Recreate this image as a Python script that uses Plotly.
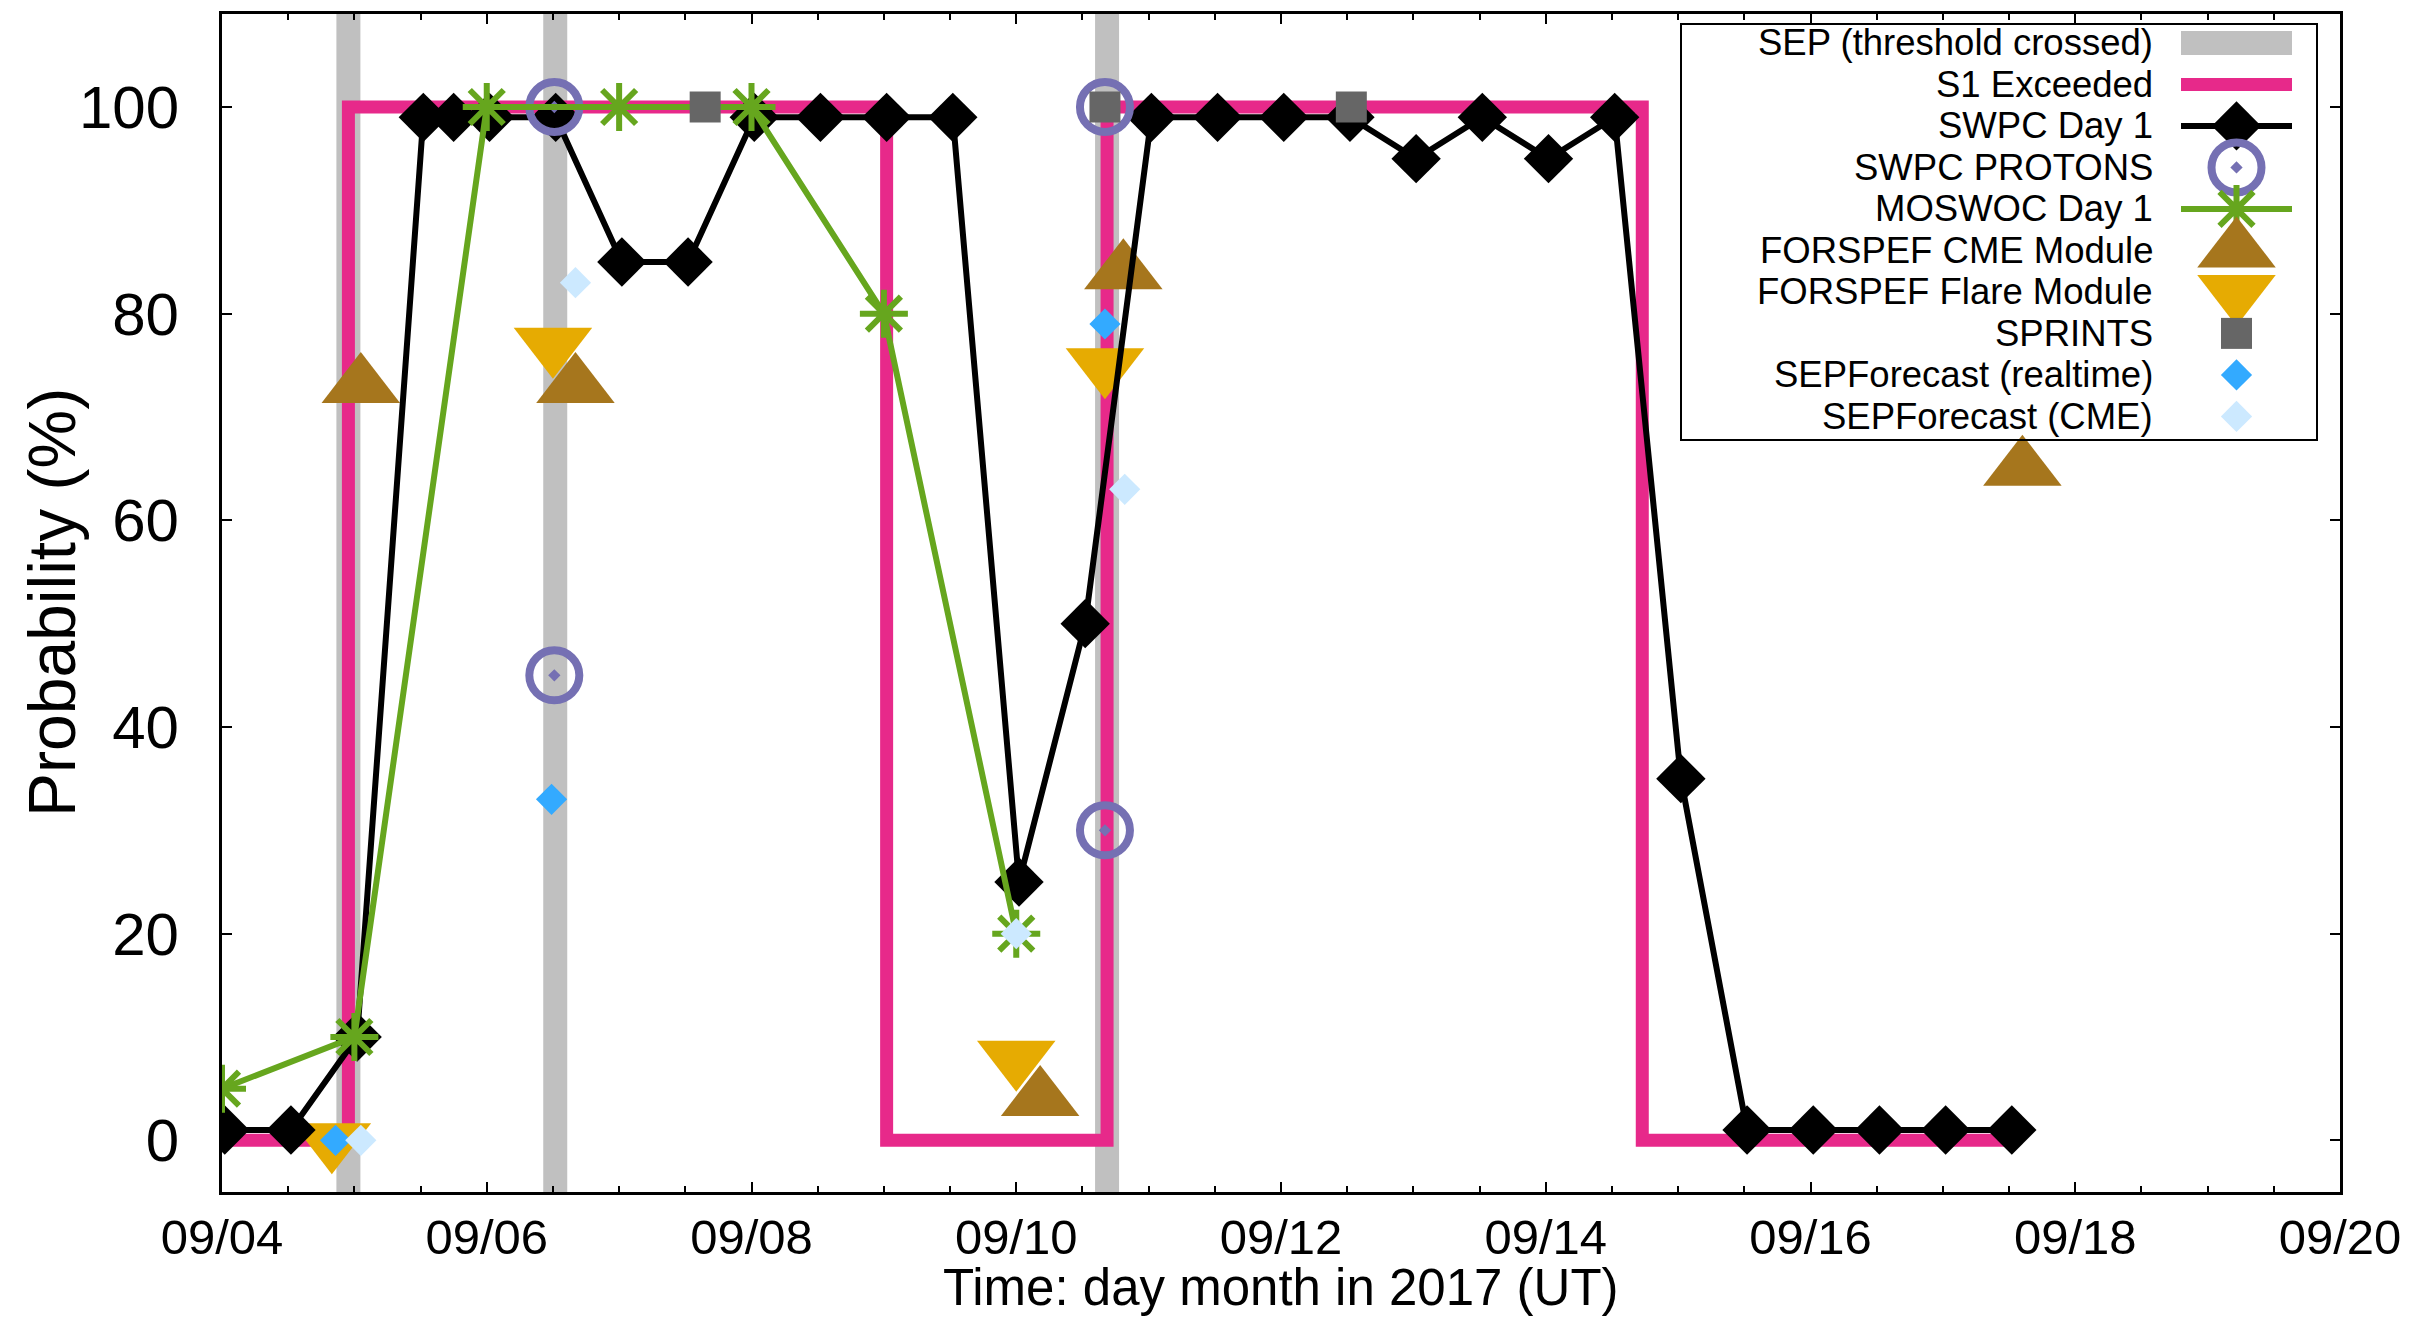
import plotly.graph_objects as go

# ---------------------------------------------------------------------------
# Forecast data, September 2017 SEP events
# ---------------------------------------------------------------------------
sep_onset_time = ["2017-09-04 22:55", "2017-09-06 12:25", "2017-09-10 16:28"]

s1_time = ["2017-09-04 00:00", "2017-09-04 22:55", "2017-09-09 00:30",
           "2017-09-10 16:28", "2017-09-14 17:30", "2017-09-17 12:00"]
s1_level = [0, 100, 0, 100, 0, 0]

swpc_time = ["2017-09-04 00:30", "2017-09-04 12:30", "2017-09-05 00:30",
             "2017-09-05 12:30", "2017-09-05 18:00", "2017-09-06 00:30",
             "2017-09-06 12:30", "2017-09-07 00:30", "2017-09-07 12:30",
             "2017-09-08 00:30", "2017-09-08 12:30", "2017-09-09 00:30",
             "2017-09-09 12:30", "2017-09-10 00:30", "2017-09-10 12:30",
             "2017-09-11 00:30", "2017-09-11 12:30", "2017-09-12 00:30",
             "2017-09-12 12:30", "2017-09-13 00:30", "2017-09-13 12:30",
             "2017-09-14 00:30", "2017-09-14 12:30", "2017-09-15 00:30",
             "2017-09-15 12:30", "2017-09-16 00:30", "2017-09-16 12:30",
             "2017-09-17 00:30", "2017-09-17 12:30"]
swpc_prob = [1, 1, 10, 99, 99, 99, 99, 85, 85, 99, 99, 99, 99, 25, 50,
             99, 99, 99, 99, 95, 99, 95, 99, 35, 1, 1, 1, 1, 1]

protons_time = ["2017-09-06 12:15", "2017-09-06 12:15",
                "2017-09-10 16:05", "2017-09-10 16:05"]
protons_prob = [100, 45, 100, 30]

moswoc_time = ["2017-09-04 00:00", "2017-09-05 00:00", "2017-09-06 00:00",
               "2017-09-07 00:00", "2017-09-08 00:00", "2017-09-09 00:00",
               "2017-09-10 00:00"]
moswoc_prob = [5, 10, 100, 100, 100, 80, 20]

forspef_cme_time = ["2017-09-05 01:10", "2017-09-06 16:05", "2017-09-10 04:20",
                    "2017-09-10 19:25", "2017-09-17 14:25"]
forspef_cme_prob = [73, 73, 4, 84, 65]

forspef_flare_time = ["2017-09-04 19:55", "2017-09-06 12:00",
                      "2017-09-10 00:00", "2017-09-10 16:05"]
forspef_flare_prob = [0, 77, 8, 75]

sprints_time = ["2017-09-07 15:36", "2017-09-10 16:05", "2017-09-12 12:45"]
sprints_prob = [100, 100, 100]

sepf_rt_time = ["2017-09-04 20:35", "2017-09-06 11:45", "2017-09-10 16:05"]
sepf_rt_prob = [0, 33, 79]

sepf_cme_time = ["2017-09-05 01:10", "2017-09-06 16:05",
                 "2017-09-10 00:00", "2017-09-10 19:40"]
sepf_cme_prob = [0, 83, 20, 63]

x_ticks_start = "2017-09-04"
x_range = ["2017-09-04 00:00", "2017-09-20 00:00"]
y_range = [-5, 109]

# ---------------------------------------------------------------------------
# Styling
# ---------------------------------------------------------------------------
FONT = "Liberation Sans, Arial, Helvetica, sans-serif"
W, H = 2433, 1318
L, R, T, B = 222, 93, 11, 126

C_BAND = "#c0c0c0"
C_S1 = "#e7298a"
C_SWPC = "#000000"
C_PROT = "#7570b3"
C_MOS = "#66a61e"
C_CME = "#a6761d"
C_FLARE = "#e6ab02"
C_SPR = "#666666"
C_RT = "#33aaff"
C_SCME = "#cce9ff"

series = [
    # name, kind, style dict
    ("SEP (threshold crossed)", "band", dict(color=C_BAND, width=24)),
    ("S1 Exceeded", "line", dict(color=C_S1, width=13)),
    ("SWPC Day 1", "linemark", dict(color=C_SWPC, width=6, symbol="diamond", size=38)),
    ("SWPC PROTONS", "mark", dict(color=C_PROT, symbol="circle-open-dot", size=50, lw=8)),
    ("MOSWOC Day 1", "linemark", dict(color=C_MOS, width=6, symbol="asterisk-open", size=40, lw=6)),
    ("FORSPEF CME Module", "mark", dict(color=C_CME, symbol="triangle-up", size=68)),
    ("FORSPEF Flare Module", "mark", dict(color=C_FLARE, symbol="triangle-down", size=68)),
    ("SPRINTS", "mark", dict(color=C_SPR, symbol="square", size=31)),
    ("SEPForecast (realtime)", "mark", dict(color=C_RT, symbol="diamond", size=24)),
    ("SEPForecast (CME)", "mark", dict(color=C_SCME, symbol="diamond", size=24)),
]
style = {name: st for name, _, st in series}


def marker_of(st):
    lw = st.get("lw", 0)
    return dict(symbol=st["symbol"], size=st["size"], color=st["color"],
                line=dict(color=st["color"], width=lw))


fig = go.Figure()

# S1 threshold status as a step line
fig.add_trace(go.Scatter(x=s1_time, y=s1_level, mode="lines",
                         line=dict(color=C_S1, width=13, shape="hv"),
                         showlegend=False, hoverinfo="skip"))

# Forecast model points
fig.add_trace(go.Scatter(x=forspef_cme_time, y=forspef_cme_prob, mode="markers",
                         marker=marker_of(style["FORSPEF CME Module"]), showlegend=False))
fig.add_trace(go.Scatter(x=forspef_flare_time, y=forspef_flare_prob, mode="markers",
                         marker=marker_of(style["FORSPEF Flare Module"]), showlegend=False))
fig.add_trace(go.Scatter(x=swpc_time, y=swpc_prob, mode="lines+markers",
                         line=dict(color=C_SWPC, width=6),
                         marker=marker_of(style["SWPC Day 1"]), showlegend=False))
fig.add_trace(go.Scatter(x=protons_time, y=protons_prob, mode="markers",
                         marker=marker_of(style["SWPC PROTONS"]), showlegend=False))
fig.add_trace(go.Scatter(x=moswoc_time, y=moswoc_prob, mode="lines+markers",
                         line=dict(color=C_MOS, width=6),
                         marker=marker_of(style["MOSWOC Day 1"]), showlegend=False))
fig.add_trace(go.Scatter(x=sprints_time, y=sprints_prob, mode="markers",
                         marker=marker_of(style["SPRINTS"]), showlegend=False))
fig.add_trace(go.Scatter(x=sepf_rt_time, y=sepf_rt_prob, mode="markers",
                         marker=marker_of(style["SEPForecast (realtime)"]), showlegend=False))
fig.add_trace(go.Scatter(x=sepf_cme_time, y=sepf_cme_prob, mode="markers",
                         marker=marker_of(style["SEPForecast (CME)"]), showlegend=False))

# SEP onset bands: full-height vertical bars behind the data
for t in sep_onset_time:
    fig.add_shape(type="line", xref="x", yref="paper", x0=t, x1=t, y0=0, y1=1,
                  line=dict(color=C_BAND, width=24), layer="below")

# ---------------------------------------------------------------------------
# Key box (text right-aligned, sample on the right), drawn on a pixel overlay
# ---------------------------------------------------------------------------
KEY_TEXT_RIGHT = 2155
KEY_SAMPLE_X0, KEY_SAMPLE_X1 = 2181, 2292
KEY_ROW0, KEY_ROW_STEP = 40, 41.6
KEY_BOX = (1681, 21, 2317, 438)

fig.add_shape(type="rect", xref="x2", yref="y2",
              x0=KEY_BOX[0], y0=KEY_BOX[1], x1=KEY_BOX[2], y1=KEY_BOX[3],
              line=dict(color="black", width=2), fillcolor="rgba(0,0,0,0)")

xmid = (KEY_SAMPLE_X0 + KEY_SAMPLE_X1) / 2
for i, (name, kind, st) in enumerate(series):
    yy = KEY_ROW0 + i * KEY_ROW_STEP
    fig.add_annotation(xref="x2", yref="y2", x=KEY_TEXT_RIGHT, y=yy,
                       text=name, showarrow=False, xanchor="right", yanchor="middle",
                       font=dict(family=FONT, size=36.5, color="black"))
    if kind in ("band", "line", "linemark"):
        fig.add_trace(go.Scatter(x=[KEY_SAMPLE_X0, KEY_SAMPLE_X1], y=[yy, yy],
                                 xaxis="x2", yaxis="y2", mode="lines",
                                 line=dict(color=st["color"], width=st["width"]),
                                 showlegend=False, hoverinfo="skip"))
    if kind in ("linemark", "mark"):
        fig.add_trace(go.Scatter(x=[xmid], y=[yy], xaxis="x2", yaxis="y2",
                                 mode="markers", marker=marker_of(st),
                                 showlegend=False, hoverinfo="skip"))

# Axis titles
fig.add_annotation(xref="paper", yref="paper", x=0.5, y=0, yshift=-95,
                   text="Time: day month in 2017 (UT)", showarrow=False,
                   xanchor="center", yanchor="middle",
                   font=dict(family=FONT, size=51, color="black"))
fig.add_annotation(xref="paper", yref="paper", x=0, y=0.5, xshift=-170,
                   text="Probability (%)", textangle=-90, showarrow=False,
                   xanchor="center", yanchor="middle",
                   font=dict(family=FONT, size=66, color="black"))

fig.update_layout(
    width=W, height=H,
    margin=dict(l=L, r=R, t=T, b=B, pad=0),
    paper_bgcolor="white", plot_bgcolor="white",
    showlegend=False,
    xaxis=dict(
        type="date", range=x_range, tick0=x_ticks_start, dtick=2 * 86400000,
        tickformat="%m/%d", ticks="inside", ticklen=10, tickwidth=2,
        tickcolor="black", showline=True, linecolor="black", linewidth=3,
        mirror="allticks", showgrid=False, zeroline=False,
        tickfont=dict(family=FONT, size=49, color="black"),
        ticklabelstandoff=0,
        minor=dict(dtick=12 * 3600000, tick0=x_ticks_start, ticks="inside",
                   ticklen=6, tickwidth=2, tickcolor="black", showgrid=False),
    ),
    yaxis=dict(
        range=y_range, tick0=0, dtick=20, ticks="inside", ticklen=10,
        tickwidth=2, tickcolor="black", showline=True, linecolor="black",
        linewidth=3, mirror="allticks", showgrid=False, zeroline=False,
        tickfont=dict(family=FONT, size=60, color="black"),
        ticklabelstandoff=28,
    ),
    xaxis2=dict(overlaying="x", range=[L, W - R], visible=False, fixedrange=True),
    yaxis2=dict(overlaying="y", range=[H - B, T], visible=False, fixedrange=True),
)

fig.write_html("out.html")
